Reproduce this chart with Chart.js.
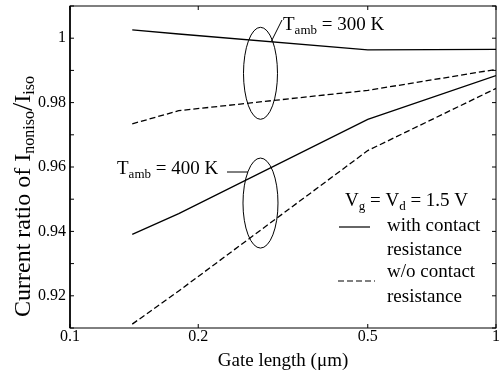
<!DOCTYPE html>
<html>
<head>
<meta charset="utf-8">
<script src="https://cdn.jsdelivr.net/npm/chart.js@4.4.1/dist/chart.umd.min.js"></script>
<style>
  body { margin: 0; background: #fff; }
  canvas { display: block; }
</style>
</head>
<body>
<canvas id="chart" width="504" height="375"></canvas>
<script>
// gate lengths (um) and current ratio
const gateLengths = [0.14, 0.18, 0.5, 1];
const with300 = [1.0026, 1.0013, 0.9964, 0.9965];
const without300 = [0.9734, 0.9775, 0.9838, 0.9903];
const with400 = [0.9391, 0.9455, 0.9748, 0.9884];
const without400 = [0.9112, 0.9215, 0.9651, 0.9844];

const xTickValues = [0.1, 0.2, 0.5, 1];
const yTickValues = [0.91, 0.92, 0.93, 0.94, 0.95, 0.96, 0.97, 0.98, 0.99, 1, 1.01];
const yLabelValues = [0.92, 0.94, 0.96, 0.98, 1];

const FONT = '"Liberation Serif", "Times New Roman", serif';

function pts(ys) {
    return gateLengths.map((x, i) => ({ x: x, y: ys[i] }));
}

function line(label, ys, dashed) {
    return {
        label: label,
        data: pts(ys),
        borderColor: '#000',
        borderWidth: 1.3,
        borderDash: dashed ? [6, 3] : [],
        pointRadius: 0,
        tension: 0,
        fill: false
    };
}

// draw text made of pieces with optional subscripts
function richText(ctx, parts, x, y) {
    let cx = x;
    parts.forEach(p => {
        ctx.font = (p.size || 19) + 'px ' + FONT;
        ctx.fillText(p.t, cx, y + (p.dy || 0));
        cx += ctx.measureText(p.t).width;
    });
}

const overlay = {
    id: 'overlay',
    beforeDraw(chart) {
        const c = chart.ctx;
        c.save();
        c.fillStyle = '#fff';
        c.fillRect(0, 0, chart.width, chart.height);
        c.restore();
    },
    afterDraw(chart) {
        const c = chart.ctx;
        const a = chart.chartArea;
        const xs = chart.scales.x, ys = chart.scales.y;
        c.save();
        c.strokeStyle = '#000';
        c.fillStyle = '#000';

        // frame
        c.lineWidth = 1;
        c.strokeRect(a.left, a.top, a.right - a.left, a.bottom - a.top);
        c.lineWidth = 1.6;
        c.beginPath();
        c.moveTo(a.left, a.top);
        c.lineTo(a.left, a.bottom);
        c.stroke();

        // inward ticks
        c.lineWidth = 1;
        yTickValues.forEach(v => {
            const py = ys.getPixelForValue(v);
            c.beginPath();
            c.moveTo(a.left, py); c.lineTo(a.left + 4, py);
            c.moveTo(a.right, py); c.lineTo(a.right - 4, py);
            c.stroke();
        });
        xTickValues.forEach(v => {
            const px = xs.getPixelForValue(v);
            c.beginPath();
            c.moveTo(px, a.bottom); c.lineTo(px, a.bottom - 4);
            c.moveTo(px, a.top); c.lineTo(px, a.top + 4);
            c.stroke();
        });

        // ellipses grouping the curves
        c.lineWidth = 1;
        const ex = xs.getPixelForValue(0.28);
        c.beginPath();
        c.ellipse(ex, ys.getPixelForValue(0.9891), 17, 46, 0, 0, Math.PI * 2);
        c.stroke();
        c.beginPath();
        c.ellipse(ex, ys.getPixelForValue(0.9488), 17.5, 45, 0, 0, Math.PI * 2);
        c.stroke();

        // leaders
        c.beginPath();
        c.moveTo(271.5, 41); c.lineTo(282, 20);
        c.moveTo(227, 172); c.lineTo(248, 172);
        c.stroke();

        c.textBaseline = 'alphabetic';
        c.textAlign = 'left';
        richText(c, [{ t: 'T' }, { t: 'amb', size: 13, dy: 4 }, { t: ' = 300 K' }], 283, 30);
        richText(c, [{ t: 'T' }, { t: 'amb', size: 13, dy: 4 }, { t: ' = 400 K' }], 117, 174);
        richText(c, [{ t: 'V' }, { t: 'g', size: 13, dy: 4 }, { t: ' = V' }, { t: 'd', size: 13, dy: 4 }, { t: ' = 1.5 V' }], 345, 206);

        // legend
        c.lineWidth = 1.2;
        c.beginPath();
        c.moveTo(339, 227); c.lineTo(370, 227);
        c.stroke();
        c.setLineDash([6, 3]);
        c.beginPath();
        c.moveTo(338, 281); c.lineTo(375, 281);
        c.stroke();
        c.setLineDash([]);
        c.font = '19px ' + FONT;
        c.fillText('with contact', 387, 231);
        c.fillText('resistance', 387, 255);
        c.fillText('w/o contact', 387, 277);
        c.fillText('resistance', 387, 302);

        // axis titles
        c.textAlign = 'center';
        c.font = '19px ' + FONT;
        c.fillText('Gate length (\u03bcm)', (a.left + a.right) / 2, 366);

        c.translate(30, 317);
        c.rotate(-Math.PI / 2);
        c.textAlign = 'left';
        richText(c, [
            { t: 'Current ratio of I', size: 24 },
            { t: 'noniso', size: 16, dy: 4 },
            { t: '/', size: 30, dy: 2 },
            { t: 'I', size: 24 },
            { t: 'iso', size: 16, dy: 4 }
        ], 0, 0);
        c.restore();
    }
};

new Chart(document.getElementById('chart'), {
    type: 'line',
    data: {
        datasets: [
            line('300 K with', with300, false),
            line('300 K w/o', without300, true),
            line('400 K with', with400, false),
            line('400 K w/o', without400, true)
        ]
    },
    options: {
        responsive: false,
        animation: false,
        layout: { padding: { top: 6, right: 8, left: 0, bottom: 0 } },
        plugins: { legend: { display: false }, tooltip: { enabled: false } },
        scales: {
            x: {
                type: 'logarithmic',
                min: 0.1,
                max: 1,
                grid: { display: false, drawTicks: false },
                border: { display: false },
                afterBuildTicks: s => { s.ticks = xTickValues.map(v => ({ value: v })); },
                afterFit: s => { s.height = 47; s.paddingLeft = 0; s.paddingRight = 0; },
                ticks: {
                    color: '#000',
                    font: { family: FONT, size: 16 },
                    padding: -1,
                    maxRotation: 0,
                    autoSkip: false,
                    callback: v => String(v)
                }
            },
            y: {
                min: 0.91,
                max: 1.01,
                grid: { display: false, drawTicks: false },
                border: { display: false },
                afterBuildTicks: s => { s.ticks = yTickValues.map(v => ({ value: v })); },
                afterFit: s => { s.width = 70; s.paddingTop = 0; s.paddingBottom = 0; },
                ticks: {
                    color: '#000',
                    font: { family: FONT, size: 16 },
                    padding: 4,
                    autoSkip: false,
                    callback: v => {
                        const r = Math.round(v * 100) / 100;
                        return yLabelValues.includes(r) ? String(r) : '';
                    }
                }
            }
        }
    },
    plugins: [overlay]
});
</script>
</body>
</html>
